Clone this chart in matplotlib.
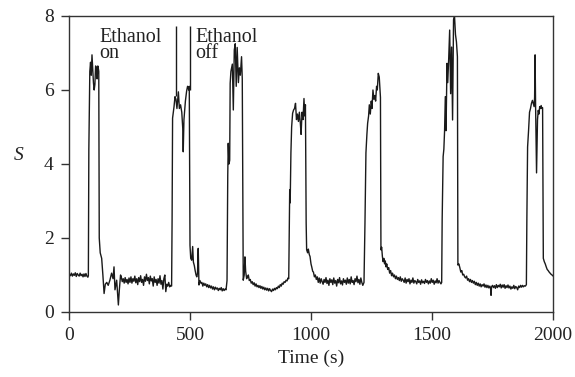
import matplotlib
matplotlib.use("Agg")
import matplotlib.pyplot as plt

# ---- data ----
time_s = [
    2, 6, 10, 14, 18, 22, 26, 30, 34, 38, 42, 46, 50, 54, 58, 62, 66, 70, 74, 78, 80,
    82, 86, 89, 92, 95, 98, 101, 104, 107, 110, 113, 116, 119, 122, 123,
    125, 129, 135, 140, 145, 150, 156, 162, 169, 176, 182, 186, 190, 197, 204, 208, 213,
    216, 220, 224, 228, 232, 236, 240, 244, 248, 252, 256, 260, 264, 268, 272, 276, 280,
    284, 288, 292, 296, 300, 304, 308, 312, 316, 320, 324, 328, 332, 336, 340, 344, 348,
    352, 356, 360, 364, 368, 372, 376, 380, 384, 388, 392, 396, 400, 404, 408, 412, 416,
    420, 424,
    426, 428, 434, 438, 442, 446, 452, 456, 461, 466, 470, 472, 475, 481, 486, 490, 495, 497,
    500, 503, 507, 511, 514, 518, 521, 525, 528, 531, 534, 537, 541, 545, 549, 553, 557,
    561, 565, 569, 573, 577, 581, 585, 589, 593, 597, 601, 605, 609, 613, 617, 621, 625,
    629, 633, 637, 641, 645, 649, 653,
    656, 658, 661, 664, 666, 669, 675, 679, 683, 687, 691, 695, 700, 704, 708, 713, 716,
    720, 724, 727, 730, 734, 738, 741, 745, 749, 753, 757, 761, 765, 769, 773, 777, 781,
    785, 789, 793, 797, 801, 805, 809, 813, 817, 821, 825, 829, 833, 837, 841, 845, 849,
    853, 857, 861, 865, 869, 873, 877, 881, 885, 889, 893, 897, 901, 905, 908,
    910, 912, 914, 917, 920, 924, 928, 932, 936, 940, 944, 948, 952, 956, 959, 963, 967,
    971, 974, 977,
    980, 982, 986, 989, 993, 996, 1000, 1003, 1007, 1010, 1014, 1018,
    1022, 1026, 1030, 1034, 1038, 1042, 1046, 1050, 1054, 1058, 1062, 1066, 1070, 1074,
    1078, 1082, 1086, 1090, 1094, 1098, 1102, 1106, 1110, 1114, 1118, 1122, 1126, 1130,
    1134, 1138, 1142, 1146, 1150, 1154, 1158, 1162, 1166, 1170, 1174, 1178, 1182, 1186,
    1190, 1194, 1198, 1202, 1206, 1210, 1214, 1219,
    1223, 1227, 1231, 1234, 1238, 1241, 1245, 1249, 1252, 1256, 1260, 1264, 1267, 1271,
    1274, 1278, 1282, 1285, 1287,
    1289, 1292, 1295, 1298, 1301, 1304, 1307, 1310, 1313, 1317, 1321, 1325, 1329, 1333,
    1337, 1341, 1345, 1349, 1353, 1357, 1361, 1365, 1369, 1373, 1377, 1381, 1385, 1389,
    1393, 1397, 1401, 1405, 1409, 1413, 1417, 1421, 1425, 1429, 1433, 1437, 1441, 1445,
    1449, 1453, 1457, 1461, 1465, 1469, 1473, 1477, 1481, 1485, 1489, 1493, 1497, 1501,
    1505, 1509, 1513, 1517, 1521, 1525, 1529, 1533, 1537, 1540,
    1542, 1546, 1549, 1552, 1555, 1558, 1562, 1565, 1569, 1573, 1577, 1581, 1585, 1589,
    1593, 1597, 1601, 1605,
    1607, 1611, 1615, 1619, 1623, 1627, 1631, 1635, 1639, 1643, 1647, 1651, 1655, 1659,
    1663, 1667, 1671, 1675, 1679, 1683, 1687, 1691, 1695, 1699, 1703, 1707, 1711, 1715,
    1719, 1723, 1727, 1731, 1735, 1739, 1742, 1744, 1746, 1750, 1754, 1758, 1762, 1766,
    1770, 1774, 1778, 1782, 1786, 1790, 1794, 1798, 1802, 1806, 1810, 1814, 1818, 1822,
    1826, 1830, 1834, 1838, 1842, 1846, 1850, 1854, 1858, 1862, 1866, 1870, 1874, 1878,
    1882, 1886, 1890,
    1892, 1895, 1899, 1903, 1907, 1911, 1915, 1919, 1922, 1924, 1926, 1928, 1930, 1932,
    1934, 1936, 1939, 1942, 1945, 1948, 1951, 1954, 1957,
    1960, 1964, 1968, 1972, 1976, 1980, 1984, 1988, 1992, 1996, 1999,
]
S_values = [
    1.02, 0.98, 1.05, 0.97, 1.03, 0.99, 1.06, 0.96, 1.04, 1.00, 0.97, 1.05, 0.98, 1.02, 0.95, 1.03, 0.96, 1.04, 0.97, 0.94, 0.98,
    4.4, 6.5, 6.75, 6.4, 6.95, 6.55, 6.2, 6.0, 6.15, 6.65, 6.6, 6.3, 6.65, 6.55, 6.5,
    2.0, 1.6, 1.45, 1.0, 0.5, 0.75, 0.8, 0.72, 0.86, 1.05, 0.9, 1.22, 0.6, 0.86, 0.19, 0.6, 1.0,
    0.95, 0.82, 0.9, 0.78, 0.93, 0.8, 0.88, 0.76, 0.92, 0.8, 0.95, 0.78, 0.9, 0.83, 0.97, 0.79, 0.9,
    0.74, 0.93, 0.82, 0.98, 0.8, 0.88, 0.72, 0.95, 0.83, 1.02, 0.85, 0.93, 0.76, 0.97, 0.84, 0.9, 0.7,
    0.95, 0.8, 0.88, 0.72, 0.9, 0.78, 0.98, 0.75, 0.85, 0.62, 0.9, 1.0, 0.55, 0.75, 0.7, 0.8, 0.68,
    0.72, 0.7,
    2.5, 5.24, 5.55, 5.82, 5.75, 5.5, 5.95, 5.5, 5.6, 5.4, 4.97, 4.33, 5.2, 5.7, 5.97, 6.1, 6.0, 6.1,
    1.8, 1.45, 1.4, 1.77, 1.35, 1.25, 1.13, 1.0, 0.95, 1.05, 1.72, 0.73, 0.85, 0.78, 0.8, 0.7, 0.78,
    0.72, 0.76, 0.68, 0.74, 0.66, 0.72, 0.65, 0.7, 0.62, 0.68, 0.6, 0.67, 0.62, 0.65, 0.58, 0.64, 0.6,
    0.66, 0.57, 0.63, 0.58, 0.62, 0.6, 0.85,
    3.7, 4.56, 4.0, 4.1, 6.18, 6.5, 6.7, 5.46, 7.08, 7.25, 6.1, 7.15, 6.2, 6.6, 6.4, 6.9, 6.3,
    0.86, 1.0, 1.49, 1.1, 0.9, 0.95, 1.0, 0.85, 0.88, 0.78, 0.82, 0.74, 0.79, 0.7, 0.76, 0.68, 0.72,
    0.66, 0.71, 0.64, 0.69, 0.62, 0.67, 0.6, 0.65, 0.59, 0.64, 0.57, 0.63, 0.58, 0.55, 0.62, 0.58, 0.64,
    0.6, 0.66, 0.63, 0.7, 0.66, 0.74, 0.7, 0.78, 0.75, 0.82, 0.8, 0.86, 0.84, 0.92, 0.9,
    2.0, 3.3, 2.95, 4.3, 5.0, 5.37, 5.46, 5.5, 5.64, 5.2, 5.35, 5.15, 5.4, 5.1, 4.8, 5.4, 5.2,
    5.77, 5.3, 5.6,
    2.4, 1.68, 1.6, 1.7, 1.55, 1.5, 1.3, 1.22, 1.1, 1.08, 0.95, 1.0,
    0.88, 0.95, 0.8, 0.92, 0.78, 0.9, 0.82, 0.75, 0.88, 0.8, 0.93, 0.77, 0.86, 0.72,
    0.9, 0.8, 0.87, 0.74, 0.92, 0.78, 0.85, 0.7, 0.88, 0.79, 0.93, 0.76, 0.84, 0.73,
    0.9, 0.8, 0.86, 0.75, 0.92, 0.78, 0.88, 0.76, 0.95, 0.8, 0.85, 0.74, 0.9, 0.82,
    0.97, 0.79, 0.88, 0.75, 0.92, 0.8, 0.72, 0.8,
    2.4, 4.3, 4.8, 5.1, 5.3, 5.6, 5.35, 5.7, 5.5, 6.0, 5.75, 5.85, 5.7, 6.1,
    6.0, 6.45, 6.35, 6.0, 5.8,
    1.68, 1.75, 1.5, 1.36, 1.45, 1.3, 1.38, 1.22, 1.3, 1.15, 1.2, 1.05, 1.12, 0.98,
    1.05, 0.95, 1.0, 0.9, 0.97, 0.88, 0.93, 0.85, 0.95, 0.83, 0.9, 0.86, 0.8, 0.92,
    0.78, 0.88, 0.82, 0.9, 0.76, 0.86, 0.8, 0.92, 0.78, 0.85, 0.82, 0.76, 0.88, 0.8,
    0.84, 0.75, 0.87, 0.79, 0.83, 0.77, 0.88, 0.8, 0.85, 0.76, 0.84, 0.78, 0.9, 0.8,
    0.86, 0.75, 0.84, 0.79, 0.9, 0.78, 0.85, 0.8, 0.76, 0.8,
    2.5, 4.2, 4.4, 4.9, 5.82, 4.9, 6.72, 6.2, 6.85, 7.62, 5.9, 7.16, 5.19, 7.9,
    8.0, 7.5, 7.3, 6.9,
    1.27, 1.3, 1.2, 1.08, 1.12, 1.0, 1.02, 0.95, 0.92, 0.97, 0.86, 0.9, 0.82, 0.88,
    0.8, 0.85, 0.78, 0.83, 0.74, 0.8, 0.72, 0.78, 0.7, 0.76, 0.68, 0.74, 0.7, 0.76,
    0.67, 0.73, 0.66, 0.72, 0.65, 0.7, 0.64, 0.45, 0.68, 0.72, 0.66, 0.71, 0.64, 0.74,
    0.66, 0.72, 0.68, 0.75, 0.65, 0.73, 0.67, 0.74, 0.64, 0.71, 0.66, 0.73, 0.65, 0.7,
    0.62, 0.68, 0.64, 0.72, 0.63, 0.69, 0.66, 0.6, 0.7, 0.66, 0.72, 0.67, 0.72, 0.68,
    0.71, 0.7, 0.74,
    2.5, 4.46, 4.9, 5.4, 5.5, 5.64, 5.72, 5.62, 5.55, 5.8, 6.95, 5.6, 4.6, 3.76,
    4.5, 5.2, 5.45, 5.35, 5.55, 5.5, 5.58, 5.5, 5.52,
    1.45, 1.36, 1.3, 1.22, 1.15, 1.12, 1.08, 1.05, 1.02, 1.0, 0.98,
]

# ethanol on / off marker lines
marker_times = [441, 499]
marker_bottoms = [5.85, 6.0]
marker_top = 7.72

x_ticks = [0, 500, 1000, 1500, 2000]
y_ticks = [0, 2, 4, 6, 8]

# ---- figure ----
plt.rcParams['font.family'] = ['Liberation Serif', 'DejaVu Serif']
fig = plt.figure(figsize=(5.75, 3.77), dpi=100)
ax = fig.add_axes([69/575, 1 - 312/377, (553 - 69)/575, (312 - 16)/377])

line_color = '#1a1a1a'
ax.plot(time_s, S_values, color=line_color, lw=1.0)
ax.vlines(marker_times, marker_bottoms, marker_top, color=line_color, lw=1.0)

ax.text(124, 6.86, 'Ethanol\non', fontsize=14.5, color='#222222',
        va='baseline', ha='left', linespacing=0.8)
ax.text(521, 6.86, 'Ethanol\noff', fontsize=14.5, color='#222222',
        va='baseline', ha='left', linespacing=0.8)

ax.set_xlim(0, 2000)
ax.set_ylim(0, 8)
ax.set_xticks(x_ticks)
ax.set_yticks(y_ticks)
ax.tick_params(direction='out', length=6, width=1, color='#333333',
               labelsize=14, labelcolor='#222222', pad=5)
for sp in ax.spines.values():
    sp.set_color('#333333')
    sp.set_linewidth(1.0)

ax.set_xlabel('Time (s)', fontsize=14, color='#222222', labelpad=4)
ax.set_ylabel('S', fontsize=14, color='#222222', style='italic',
              rotation=0, labelpad=0)
ax.yaxis.set_label_coords(-0.105, 0.5)

fig.savefig('out.png', dpi=100)
